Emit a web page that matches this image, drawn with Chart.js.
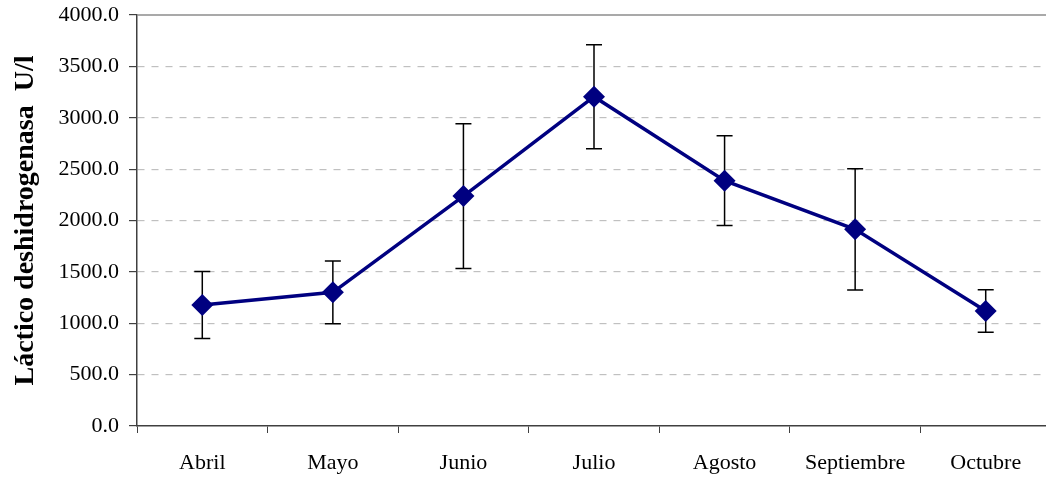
<!DOCTYPE html>
<html lang="es">
  <head>
    <meta charset="UTF-8" />
    <title>Láctico deshidrogenasa</title>
    <style>
      html, body { margin: 0; padding: 0; background: #ffffff; overflow: hidden; }
      #chart { display: block; }
    </style>
  </head>
  <body>
    <!-- plot area runs slightly past the right edge of the window, as in the original -->
    <canvas id="chart" width="1051" height="478"></canvas>

    <script src="https://cdn.jsdelivr.net/npm/chart.js"></script>

    <script>
      // months and mean values (U/l), with standard deviation for error bars
      const months = ["Abril", "Mayo", "Junio", "Julio", "Agosto", "Septiembre", "Octubre"];
      const ldh = [1178, 1301, 2238, 3205, 2388, 1914, 1119];
      const ldhSd = [326, 305, 704, 506, 437, 590, 206];
      const yTicks = [0, 500, 1000, 1500, 2000, 2500, 3000, 3500, 4000];

      const serif = "'Liberation Serif', 'Times New Roman', serif";

      // error bars drawn under the markers
      const errorBars = {
        id: "errorBars",
        beforeDatasetsDraw(chart) {
          const ctx = chart.ctx;
          const xs = chart.scales.x;
          const ys = chart.scales.y;
          ctx.save();
          ctx.strokeStyle = "#000000";
          ctx.lineWidth = 1.5;
          ldh.forEach((v, i) => {
            const x = xs.getPixelForValue(i);
            const top = ys.getPixelForValue(v + ldhSd[i]);
            const bot = ys.getPixelForValue(v - ldhSd[i]);
            ctx.beginPath();
            ctx.moveTo(x, top);
            ctx.lineTo(x, bot);
            ctx.moveTo(x - 8, top);
            ctx.lineTo(x + 8, top);
            ctx.moveTo(x - 8, bot);
            ctx.lineTo(x + 8, bot);
            ctx.stroke();
          });
          ctx.restore();
        },
        afterDraw(chart) {
          // solid top edge of plot area
          const a = chart.chartArea;
          const ctx = chart.ctx;
          ctx.save();
          ctx.strokeStyle = "#8c8c8c";
          ctx.lineWidth = 1.5;
          ctx.beginPath();
          ctx.moveTo(a.left, a.top);
          ctx.lineTo(a.right, a.top);
          ctx.stroke();
          ctx.restore();
        },
      };

      new Chart(document.getElementById("chart"), {
        type: "line",
        data: {
          labels: months,
          datasets: [
            {
              data: ldh,
              borderColor: "#000080",
              backgroundColor: "#000080",
              borderWidth: 3.5,
              pointStyle: "rectRot",
              pointRadius: 11,
              pointBorderWidth: 0,
              tension: 0,
            },
          ],
        },
        options: {
          responsive: false,
          animation: false,
          layout: { autoPadding: false, padding: { top: 15, right: 0, left: 0, bottom: 0 } },
          plugins: {
            legend: { display: false },
            tooltip: { enabled: false },
          },
          scales: {
            x: {
              offset: true,
              grid: {
                offset: true,
                drawOnChartArea: false,
                drawTicks: true,
                tickLength: 7,
                tickColor: "#404040",
              },
              border: { color: "#404040", width: 1.5 },
              ticks: {
                color: "#000000",
                font: { family: serif, size: 22 },
                padding: 17,
                maxRotation: 0,
                autoSkip: false,
              },
              afterFit(scale) {
                scale.height = 52;
                scale.paddingLeft = 0;
                scale.paddingRight = 0;
              },
            },
            y: {
              min: 0,
              max: 4000,
              afterBuildTicks(scale) {
                scale.ticks = yTicks.map((v) => ({ value: v }));
              },
              grid: {
                color: (c) =>
                  c.tick && (c.tick.value === 0 || c.tick.value === 4000) ? "rgba(0,0,0,0)" : "#c0c0c0",
                lineWidth: 1.2,
                tickColor: "#404040",
                tickLength: 8,
                tickBorderDash: [],
              },
              border: { color: "#404040", width: 1.5, dash: [7, 7] },
              ticks: {
                color: "#000000",
                font: { family: serif, size: 22 },
                padding: 10,
                callback: (v) => Number(v).toFixed(1),
              },
              title: {
                display: true,
                text: "Láctico deshidrogenasa  U/l",
                color: "#000000",
                font: { family: serif, size: 28, weight: "bold" },
                padding: { top: 9, bottom: 0 },
              },
              afterFit(scale) {
                scale.width = 137;
                scale.paddingTop = 0;
                scale.paddingBottom = 0;
              },
            },
          },
        },
        plugins: [errorBars],
      });
    </script>
  </body>
</html>
